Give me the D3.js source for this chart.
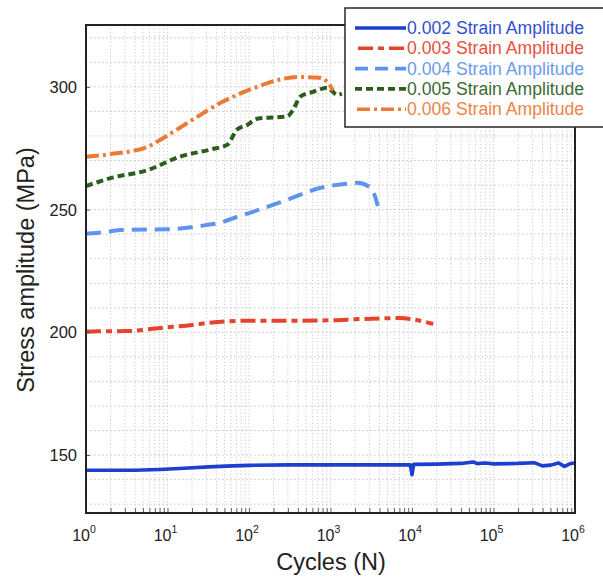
<!DOCTYPE html>
<html>
<head>
<meta charset="utf-8">
<script src="https://cdn.jsdelivr.net/npm/d3@7"></script>
<style>
  html, body { margin: 0; padding: 0; background: #fff; }
  svg { display: block; font-family: "Liberation Sans", Arial, sans-serif; }
</style>
</head>
<body>
<svg id="chart" width="603" height="581"></svg>
<script>
// Cyclic stress response: stress amplitude vs. number of cycles
const seriesNames = ["0.002 Strain Amplitude", "0.003 Strain Amplitude", "0.004 Strain Amplitude",
                     "0.005 Strain Amplitude", "0.006 Strain Amplitude"];
const seriesColors = ["#1c3fcf", "#e5432c", "#5f93f0", "#2b5e1e", "#eb7a37"];

const xTickExponents = [0, 1, 2, 3, 4, 5, 6];
const yTickValues = [150, 200, 250, 300];

// 0.002 strain amplitude
const cycles002 = [1, 2, 4, 8, 16, 32, 63, 100, 316, 1000, 3162, 9550, 10000, 10470, 20000, 40000, 56000,
                   63000, 79000, 100000, 200000, 316000, 398000, 501000, 631000, 741000, 891000, 1000000];
const stress002 = [143.8, 143.8, 143.8, 144.1, 144.6, 145.2, 145.6, 145.8, 146.0, 146.0, 146.0, 146.0, 142.0,
                   146.2, 146.3, 146.6, 147.2, 146.5, 146.8, 146.4, 146.6, 146.9, 145.6, 145.9, 146.8, 145.4, 146.6, 146.8];

// 0.003 strain amplitude
const cycles003 = [1, 1.35, 3.2, 8.1, 20, 33, 85, 350, 1000, 2290, 7080, 11500, 18200];
const stress003 = [200.3, 200.4, 200.5, 201.8, 203.0, 203.9, 204.7, 204.7, 204.9, 205.4, 205.8, 205.0, 203.4];

// 0.004 strain amplitude
const cycles004 = [1, 1.35, 3.2, 10, 30, 44, 71, 135, 295, 741, 1580, 2140, 3020, 3550, 3800];
const stress004 = [240.2, 240.5, 241.8, 242.0, 243.7, 244.6, 247.0, 250.0, 254.0, 258.8, 260.5, 260.9, 259.2, 255.0, 251.5];

// 0.005 strain amplitude
const cycles005 = [1, 2.1, 5.6, 14, 36, 54, 71, 95, 126, 295, 347, 427, 617, 912, 1070, 1200, 1380];
const stress005 = [259.6, 263.0, 266.0, 271.5, 274.7, 276.4, 282.5, 284.5, 287.0, 288.0, 290.6, 296.0, 298.0,
                   299.6, 298.0, 296.7, 297.2];

// 0.006 strain amplitude
const cycles006 = [1, 2, 5.6, 8.7, 17, 48, 126, 240, 390, 740, 977, 1070];
const stress006 = [271.5, 272.6, 275.5, 279.0, 285.0, 294.0, 300.0, 303.0, 304.0, 303.7, 300.8, 298.5];

const allCycles = [cycles002, cycles003, cycles004, cycles005, cycles006];
const allStress = [stress002, stress003, stress004, stress005, stress006];
const dashes = [null, "15,5,6,5", "15,8", "7,4", "13,4,3,4"];

const svg = d3.select("#chart");
const margin = { left: 86, right: 28, top: 25, bottom: 68 };
const W = 603, H = 581;
const plotW = W - margin.left - margin.right;
const plotH = H - margin.top - margin.bottom;

const x = d3.scaleLog().domain([1, 1e6]).range([margin.left, margin.left + plotW]);
const y = d3.scaleLinear().domain([126.4, 325.2]).range([margin.top + plotH, margin.top]);

const grid = svg.append("g").attr("class", "grid");

// Vertical grid at every integer multiple within each decade
const minorX = [];
for (let e = 0; e < 6; e++) for (let m = 1; m <= 9; m++) minorX.push(m * Math.pow(10, e));
minorX.push(1e6);
grid.selectAll("line.vx").data(minorX.filter(v => v > 1 && v < 1e6)).join("line")
  .attr("x1", d => x(d)).attr("x2", d => x(d))
  .attr("y1", margin.top).attr("y2", margin.top + plotH)
  .attr("stroke", "#c9c9c9").attr("stroke-width", 1).attr("stroke-dasharray", "1.2,2.2");

// Horizontal grid every 10 MPa
const gridY = d3.range(130, 330, 10);
grid.selectAll("line.hy").data(gridY).join("line")
  .attr("x1", margin.left).attr("x2", margin.left + plotW)
  .attr("y1", d => y(d)).attr("y2", d => y(d))
  .attr("stroke", "#c4c4c4").attr("stroke-width", 1).attr("stroke-dasharray", "1.5,2.5");

// Series lines
const line = d3.line().curve(d3.curveMonotoneX).x(d => x(d[0])).y(d => y(d[1]));
const lines = svg.append("g").attr("class", "series");
seriesNames.forEach((name, i) => {
  const pts = allCycles[i].map((c, j) => [c, allStress[i][j]]);
  lines.append("path")
    .datum(pts)
    .attr("d", i === 0 ? d3.line().x(d => x(d[0])).y(d => y(d[1]))(pts) : line(pts))
    .attr("fill", "none")
    .attr("stroke", seriesColors[i])
    .attr("stroke-width", i === 0 ? 3.6 : 4)
    .attr("stroke-linejoin", "round")
    .attr("stroke-dasharray", dashes[i]);
});

// Axes
const xAxis = d3.axisBottom(x).tickValues(minorX).tickSize(-5).tickFormat("");
svg.append("g").attr("transform", `translate(0,${margin.top + plotH})`).call(xAxis)
  .call(g => g.select(".domain").remove())
  .call(g => g.selectAll("line").attr("stroke", "#666").attr("stroke-width", 1));

const yAxis = d3.axisLeft(y).tickValues(yTickValues).tickSize(-4).tickFormat("");
svg.append("g").attr("transform", `translate(${margin.left},0)`).call(yAxis)
  .call(g => g.select(".domain").remove())
  .call(g => g.selectAll("line").attr("stroke", "#555"));

// Frame
svg.append("rect")
  .attr("x", margin.left).attr("y", margin.top)
  .attr("width", plotW).attr("height", plotH)
  .attr("fill", "none").attr("stroke", "#222").attr("stroke-width", 2);

// X tick labels: powers of ten
const xl = svg.append("g");
xTickExponents.forEach(e => {
  const t = xl.append("text")
    .attr("x", x(Math.pow(10, e)) - 2)
    .attr("y", margin.top + plotH + 28)
    .attr("text-anchor", "middle")
    .attr("font-size", 16)
    .attr("fill", "#222");
  t.append("tspan").text("10");
  t.append("tspan").attr("dy", -8).attr("font-size", 10.5).text(e);
});

// Y tick labels
svg.append("g").selectAll("text").data(yTickValues).join("text")
  .attr("x", margin.left - 9)
  .attr("y", d => y(d) + 6)
  .attr("text-anchor", "end")
  .attr("font-size", 16.5)
  .attr("fill", "#222")
  .text(d => d);

// Axis titles
svg.append("text")
  .attr("x", 331)
  .attr("y", 570)
  .attr("text-anchor", "middle")
  .attr("font-size", 23.5)
  .attr("fill", "#222")
  .text("Cycles (N)");

svg.append("text")
  .attr("transform", "translate(34,270) rotate(-90)")
  .attr("text-anchor", "middle")
  .attr("font-size", 23.5)
  .attr("fill", "#222")
  .text("Stress amplitude (MPa)");

// Legend
const lg = svg.append("g").attr("transform", "translate(345,8)");
lg.append("rect").attr("x", 0).attr("y", 0).attr("width", 270).attr("height", 119)
  .attr("fill", "#fff").attr("stroke", "#333").attr("stroke-width", 1.6);
seriesNames.forEach((name, i) => {
  const yy = 20 + i * 20.3;
  lg.append("line")
    .attr("x1", 10).attr("x2", 61).attr("y1", yy).attr("y2", yy)
    .attr("stroke", seriesColors[i]).attr("stroke-width", 3.6)
    .attr("stroke-dasharray", i === 0 ? null : (i === 2 ? "13,7" : dashes[i]))
    .attr("stroke-dashoffset", i === 1 ? -3 : (i === 4 ? -2 : 0));
  lg.append("text")
    .attr("x", 62).attr("y", yy + 6)
    .attr("font-size", 17.6)
    .attr("fill", seriesColors[i])
    .attr("opacity", 0.92)
    .text(name);
});
</script>
</body>
</html>
